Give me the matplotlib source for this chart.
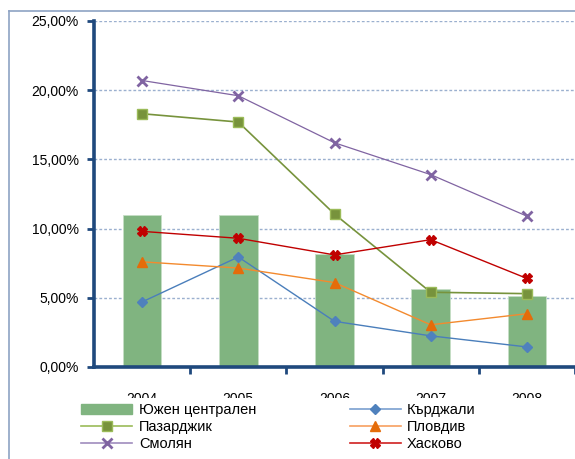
import matplotlib.pyplot as plt
from matplotlib.lines import Line2D
from matplotlib.patches import Rectangle

plt.rcParams['font.family'] = ['Liberation Sans', 'DejaVu Sans']

years = ['2004', '2005', '2006', '2007', '2008']
yuzhen = [11.0, 11.0, 8.15, 5.6, 5.1]
kardzhali = [4.7, 7.95, 3.3, 2.25, 1.45]
pazardzhik = [18.3, 17.7, 11.05, 5.4, 5.3]
plovdiv = [7.6, 7.15, 6.1, 3.05, 3.85]
smolyan = [20.7, 19.6, 16.2, 13.9, 10.9]
haskovo = [9.8, 9.3, 8.1, 9.2, 6.4]
yticks = [0, 5, 10, 15, 20, 25]

axis_col = '#1F497D'
x = range(len(years))

fig = plt.figure(figsize=(5.75, 4.59), dpi=100)
ax = fig.add_axes([94 / 575, 1 - 367 / 459, 1 - 94 / 575, 346 / 459])

# outer chart border (left and top visible)
fig.add_artist(Line2D([9 / 575, 9 / 575], [0, 1 - 11 / 459], color='#8EA3C4', lw=1.2))
fig.add_artist(Line2D([9 / 575, 1], [1 - 11 / 459, 1 - 11 / 459], color='#8EA3C4', lw=1.2))

ax.bar(x, yuzhen, width=0.4, color='#80B480', edgecolor='#C5DEC5', lw=0.6, zorder=2)
ax.plot(x, kardzhali, color='#4A7EBB', lw=1.0, marker='D', ms=5, mfc='#4F81BD', mec='#4F81BD', zorder=3)
ax.plot(x, pazardzhik, color='#77933C', lw=1.2, marker='s', ms=7, mfc='#77933C', mec='#9BBB59', zorder=3)
ax.plot(x, plovdiv, color='#F38A2E', lw=1.0, marker='^', ms=7.5, mfc='#E46C0A', mec='#E46C0A', zorder=3)
ax.plot(x, smolyan, color='#8064A2', lw=0.9, marker='x', ms=6.5, mew=2, mfc='#8064A2', mec='#8064A2', zorder=3)
ax.plot(x, haskovo, color='#C00000', lw=1.0, marker='X', ms=7, mfc='#C00000', mec='#C00000', zorder=3)

ax.set_xlim(-0.5, 4.5)
ax.set_ylim(0, 25)
ax.set_yticks(yticks)
ax.set_yticklabels([f'{v:.2f}'.replace('.', ',') + '%' for v in yticks], fontsize=10)
ax.set_xticks(list(x))
ax.set_xticklabels(years, fontsize=10)
ax.set_xticks([0.5, 1.5, 2.5, 3.5, 4.5], minor=True)
ax.tick_params(axis='x', which='major', length=0, pad=18)
ax.tick_params(axis='x', which='minor', length=5, width=2, color=axis_col, direction='out')
ax.tick_params(axis='y', length=5, width=2, color=axis_col, direction='out', pad=6)

ax.grid(axis='y', color='#9BB0CF', ls=(0, (2, 1.5)), lw=1, zorder=0)
ax.set_axisbelow(True)
for s in ['top', 'right']:
    ax.spines[s].set_visible(False)
for s in ['left', 'bottom']:
    ax.spines[s].set_color(axis_col)
    ax.spines[s].set_linewidth(2.6)
    ax.spines[s].set_zorder(4)

# legend area box (white) that hides the lower part of the year labels
fig.add_artist(Rectangle((72 / 575, 4 / 459), 490 / 575, 57 / 459,
                         transform=fig.transFigure, facecolor='white',
                         edgecolor='none', zorder=10))

handles = [
    plt.Rectangle((0, 0), 1, 1, color='#80B480'),
    Line2D([], [], color='#9BBB59', lw=1.2, marker='s', ms=7, mfc='#77933C', mec='#9BBB59'),
    Line2D([], [], color='#A08CBD', lw=1.2, marker='x', ms=6.5, mew=2, mec='#8064A2'),
    Line2D([], [], color='#7A9FCF', lw=1.2, marker='D', ms=5, mfc='#4F81BD', mec='#4F81BD'),
    Line2D([], [], color='#F7A060', lw=1.2, marker='^', ms=7.5, mfc='#E46C0A', mec='#E46C0A'),
    Line2D([], [], color='#D02020', lw=1.2, marker='X', ms=7, mfc='#C00000', mec='#C00000'),
]
labels = ['Южен централен', 'Пазарджик', 'Смолян', 'Кърджали', 'Пловдив', 'Хасково']
leg = fig.legend(handles, labels, ncol=2, loc='upper left',
                 bbox_to_anchor=(71 / 575, 1 - 393 / 459), frameon=False,
                 fontsize=10.5, handlelength=3.5, handleheight=0.7, handletextpad=0.45,
                 columnspacing=6.4, labelspacing=0.2, borderpad=0.2)
leg.set_zorder(11)

fig.savefig('out.png', dpi=100)
